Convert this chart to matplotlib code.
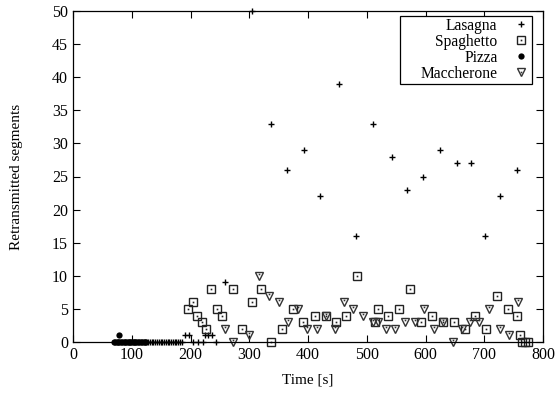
import matplotlib
matplotlib.use("Agg")
import matplotlib.pyplot as plt
from matplotlib.legend_handler import HandlerTuple

plt.rcParams["font.family"] = ["Liberation Serif", "DejaVu Serif"]
plt.rcParams["font.size"] = 11.5

# Lasagna
las_x = [128, 131, 134, 137, 140, 143, 146, 149, 152, 155, 158, 161, 164, 167,
         170, 173, 176, 179, 182, 185, 190, 197, 204, 212, 221, 224, 230, 236,
         243, 259, 305, 337, 364, 393, 420, 453, 481, 511, 543, 568, 595, 625,
         653, 677, 701, 727, 756]
las_y = [0, 0, 0, 0, 0, 0, 0, 0, 0, 0, 0, 0, 0, 0,
         0, 0, 0, 0, 0, 0, 1, 1, 0, 0, 0, 1, 1, 1,
         0, 9, 50, 33, 26, 29, 22, 39, 16, 33, 28, 23, 25, 29,
         27, 27, 16, 22, 26]

# Spaghetto
spa_x = [196, 204, 211, 219, 226, 235, 245, 254, 272, 288, 305, 320, 337, 356,
         375, 392, 412, 430, 448, 465, 483, 514, 519, 536, 555, 574, 592, 611,
         630, 649, 667, 684, 703, 721, 740, 755, 761, 765, 770, 775]
spa_y = [5, 6, 4, 3, 2, 8, 5, 4, 8, 2, 6, 8, 0, 2,
         5, 3, 4, 4, 3, 4, 10, 3, 5, 4, 5, 8, 3, 4,
         3, 3, 2, 4, 2, 7, 5, 4, 1, 0, 0, 0]

# Pizza
piz_x = [70, 72, 75, 77, 78, 79, 81, 84, 86, 88, 90, 93, 95, 97, 99, 102, 104,
         106, 108, 111, 113, 115, 117, 120, 122, 124]
piz_y = [0, 0, 0, 0, 1, 0, 0, 0, 0, 0, 0, 0, 0, 0, 0, 0, 0,
         0, 0, 0, 0, 0, 0, 0, 0, 0]

# Maccherone
mac_x = [259, 272, 300, 317, 334, 350, 366, 383, 398, 415, 431, 446, 461, 477,
         494, 511, 519, 533, 548, 565, 582, 598, 614, 630, 646, 662, 676, 691,
         708, 727, 742, 757]
mac_y = [2, 0, 1, 10, 7, 6, 3, 5, 2, 2, 4, 2, 6, 5,
         4, 3, 3, 2, 2, 3, 3, 5, 2, 3, 0, 2, 3, 3,
         5, 2, 1, 6]

fig = plt.figure(figsize=(5.55, 3.94), dpi=100)
ax = fig.add_axes([73 / 555, 52 / 394, 470 / 555, 331 / 394])

h_las, = ax.plot(las_x, las_y, ls="none", marker="+", ms=5, mew=1.0, color="black")
h_spa, = ax.plot(spa_x, spa_y, ls="none", marker="s", ms=5.5, mew=1.0,
                 mfc="none", mec="#222222")
h_spa_dot, = ax.plot(spa_x, spa_y, ls="none", marker="s", ms=1.2, mew=0,
                     color="#222222")
h_piz, = ax.plot(piz_x, piz_y, ls="none", marker="o", ms=4.5, mew=0, color="black")
h_mac, = ax.plot(mac_x, mac_y, ls="none", marker="v", ms=6, mew=1.0,
                 mfc="none", mec="#333333")
h_mac_dot, = ax.plot(mac_x, [v + 0.3 for v in mac_y], ls="none", marker="s",
                     ms=1.2, mew=0, color="#333333")

for h in (h_las, h_spa, h_spa_dot, h_piz, h_mac, h_mac_dot):
    h.set_clip_on(False)

ax.set_xlim(0, 800)
ax.set_ylim(0, 50)
ax.set_xticks(range(0, 801, 100))
ax.set_yticks(range(0, 51, 5))
ax.tick_params(direction="in", top=True, right=True, length=5, width=0.8)
ax.set_xlabel("Time [s]", fontsize=11, labelpad=8)
ax.set_ylabel("Retransmitted segments", fontsize=11, labelpad=21)
for s in ax.spines.values():
    s.set_linewidth(0.9)

leg = ax.legend([h_las, (h_spa, h_spa_dot), h_piz, (h_mac, h_mac_dot)],
                ["Lasagna", "Spaghetto", "Pizza", "Maccherone"],
                handler_map={tuple: HandlerTuple(ndivide=1, pad=0)},
                loc="upper right", bbox_to_anchor=((532 - 73) / 470, (342 - 16) / 331),
                borderaxespad=0, markerfirst=False, fancybox=False, framealpha=1,
                edgecolor="black", labelspacing=0.0, borderpad=0.12,
                handlelength=1.2, handletextpad=0.9, fontsize=11.2)
leg.get_frame().set_linewidth(0.9)
col = leg._legend_box._children[1]._children[0]
col.align = "right"
col.width = 128

fig.savefig("out.png", dpi=100)
